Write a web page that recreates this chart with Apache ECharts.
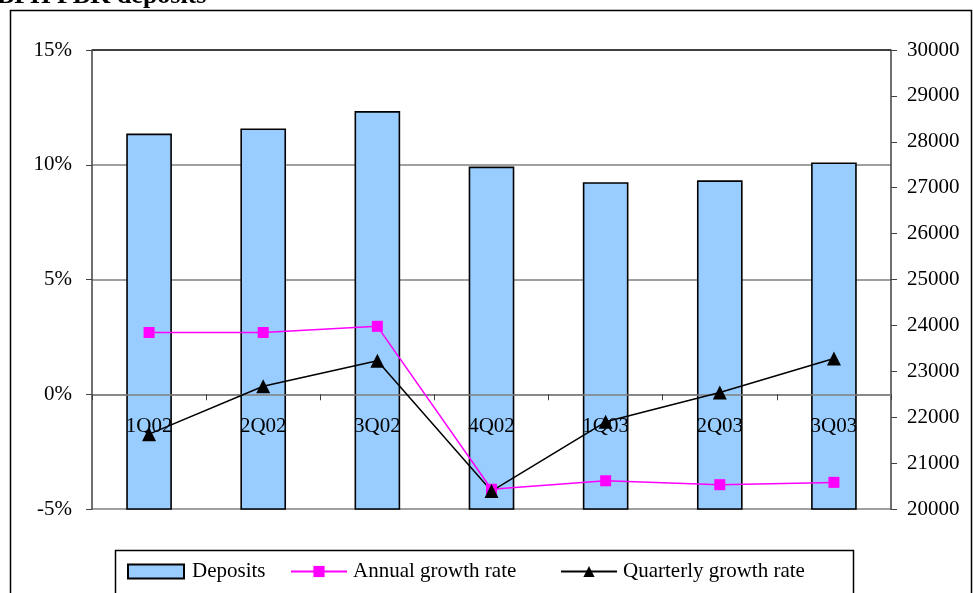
<!DOCTYPE html>
<html>
<head>
<meta charset="utf-8">
<script src="https://cdn.jsdelivr.net/npm/echarts@6/dist/echarts.min.js"></script>
<style>
  html, body { margin: 0; padding: 0; background: #fff; }
  #chart { width: 973px; height: 593px; }
</style>
</head>
<body>
<div id="chart"></div>
<script>
// Quarterly deposit volumes and growth rates
const categories = ['1Q02', '2Q02', '3Q02', '4Q02', '1Q03', '2Q03', '3Q03'];
const deposits = [28180, 28290, 28670, 27460, 27120, 27160, 27550];
const annualGrowth = [2.69, 2.69, 2.96, -4.14, -3.77, -3.94, -3.84];
const quarterlyGrowth = [-1.74, 0.35, 1.46, -4.22, -1.20, 0.08, 1.56];

// growth-rate axis range (percent) and deposit axis range
const pctMin = -5, pctMax = 15, pctStep = 5;
const depMin = 20000, depMax = 30000, depStep = 1000;

const serif = '"Liberation Serif", "Times New Roman", serif';
const labelFont = { fontFamily: serif, fontSize: 21, color: '#000' };

const gridTop = 50, gridBottom = 84, chartHeight = 593;
const gridHeight = chartHeight - gridTop - gridBottom;
// lift the category axis from the bottom edge up to the 0% line
const zeroOffset = -gridHeight * (0 - pctMin) / (pctMax - pctMin);

const chart = echarts.init(document.getElementById('chart'), null, { renderer: 'canvas' });

chart.setOption({
  animation: false,
  backgroundColor: '#fff',
  title: {
    text: 'BPH PBK deposits',
    left: -3,
    top: -17,
    padding: 0,
    textStyle: { fontFamily: serif, fontSize: 26, fontWeight: 'bold', color: '#000' }
  },
  graphic: [
    // outer chart frame
    { type: 'rect', silent: true, z: -1,
      shape: { x: 10.5, y: 10.5, width: 961, height: 620 },
      style: { fill: null, stroke: '#000', lineWidth: 1.5 } },
    // legend frame
    { type: 'rect', silent: true, z: -1,
      shape: { x: 115.5, y: 550.5, width: 738, height: 80 },
      style: { fill: '#fff', stroke: '#000', lineWidth: 1.5 } }
  ],
  legend: [
    { left: 127, top: 561, padding: 0, data: ['Deposits'], icon: 'rect',
      itemWidth: 56, itemHeight: 14,
      textStyle: Object.assign({ padding: [0, 0, 0, 3] }, labelFont) },
    { left: 290, top: 561, padding: 0, data: ['Annual growth rate'],
      itemWidth: 56, itemHeight: 14,
      textStyle: Object.assign({ padding: [0, 0, 0, 1] }, labelFont) },
    { left: 560, top: 561, padding: 0, data: ['Quarterly growth rate'],
      itemWidth: 56, itemHeight: 14,
      textStyle: Object.assign({ padding: [0, 0, 0, 1] }, labelFont) }
  ],
  grid: { left: 92, right: 82, top: gridTop, bottom: gridBottom, containLabel: false },
  xAxis: {
    type: 'category',
    data: categories,
    boundaryGap: true,
    position: 'bottom',
    offset: zeroOffset,
    z: 2,
    axisLine: { onZero: false, lineStyle: { color: '#808080', width: 1.5 } },
    axisTick: { show: true, length: 6, lineStyle: { color: '#404040' } },
    axisLabel: Object.assign({ margin: 22 }, labelFont)
  },
  yAxis: [
    {
      type: 'value',
      min: pctMin, max: pctMax, interval: pctStep,
      position: 'left',
      axisLine: { show: true, lineStyle: { color: '#404040', width: 1.5 } },
      axisTick: { show: true, length: 6, lineStyle: { color: '#404040' } },
      axisLabel: Object.assign({ margin: 20, formatter: '{value}%' }, labelFont),
      splitLine: { show: true, lineStyle: { color: ['#808080', '#808080', '#808080', '#808080', '#000'], width: 1.5 } }
    },
    {
      type: 'value',
      min: depMin, max: depMax, interval: depStep,
      position: 'right',
      axisLine: { show: true, lineStyle: { color: '#404040', width: 1.5 } },
      axisTick: { show: true, length: 6, lineStyle: { color: '#404040' } },
      axisLabel: Object.assign({ margin: 16, formatter: v => String(v) }, labelFont),
      splitLine: { show: false }
    }
  ],
  series: [
    {
      name: 'Deposits',
      type: 'bar',
      yAxisIndex: 1,
      z: 1,
      data: deposits,
      barWidth: '40%',
      itemStyle: { color: '#99CCFF', borderColor: '#000', borderWidth: 1.6 }
    },
    {
      name: 'Annual growth rate',
      type: 'line',
      yAxisIndex: 0,
      z: 3,
      data: annualGrowth,
      symbol: 'rect',
      symbolSize: 11,
      showAllSymbol: true,
      lineStyle: { color: '#FF00FF', width: 1.5 },
      itemStyle: { color: '#FF00FF' }
    },
    {
      name: 'Quarterly growth rate',
      type: 'line',
      yAxisIndex: 0,
      z: 3,
      data: quarterlyGrowth,
      symbol: 'triangle',
      symbolSize: 14,
      showAllSymbol: true,
      lineStyle: { color: '#000', width: 1.5 },
      itemStyle: { color: '#000' }
    }
  ]
});
</script>
</body>
</html>
